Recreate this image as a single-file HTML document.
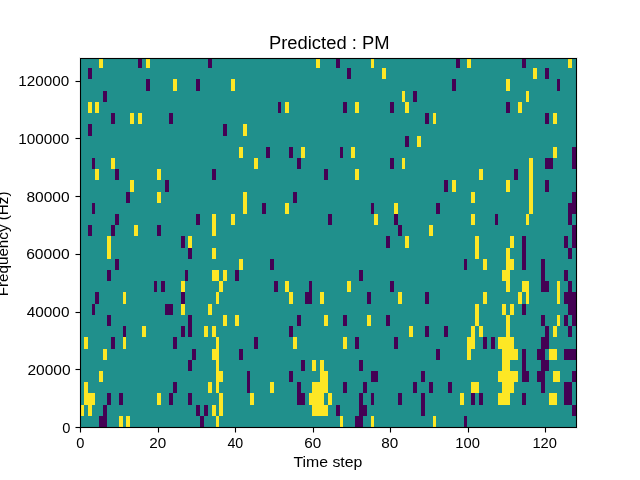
<!DOCTYPE html>
<html><head><meta charset="utf-8"><style>
html,body{margin:0;padding:0;background:#fff;overflow:hidden;}
svg{display:block;will-change:transform;}
text{font-family:"Liberation Sans",sans-serif;fill:#000;}
</style></head><body>
<svg width="640" height="480" viewBox="0 0 640 480">
<rect x="0" y="0" width="640" height="480" fill="#fff"/>
<g shape-rendering="crispEdges">
<rect x="80" y="58" width="496" height="369" fill="#20908c"/>
<rect x="99" y="58" width="4" height="10" fill="#fde725"/><rect x="138" y="58" width="4" height="10" fill="#440154"/><rect x="146" y="58" width="4" height="10" fill="#fde725"/><rect x="208" y="58" width="4" height="10" fill="#440154"/><rect x="316" y="58" width="4" height="10" fill="#fde725"/><rect x="336" y="58" width="4" height="10" fill="#440154"/><rect x="371" y="58" width="3" height="10" fill="#fde725"/><rect x="456" y="58" width="4" height="10" fill="#440154"/><rect x="467" y="58" width="4" height="10" fill="#fde725"/><rect x="522" y="58" width="4" height="10" fill="#440154"/><rect x="568" y="58" width="4" height="10" fill="#fde725"/><rect x="88" y="68" width="4" height="11" fill="#440154"/><rect x="347" y="68" width="4" height="11" fill="#440154"/><rect x="382" y="68" width="4" height="11" fill="#fde725"/><rect x="533" y="68" width="4" height="11" fill="#fde725"/><rect x="545" y="68" width="4" height="11" fill="#440154"/><rect x="146" y="79" width="4" height="12" fill="#440154"/><rect x="173" y="79" width="4" height="12" fill="#fde725"/><rect x="196" y="79" width="4" height="12" fill="#440154"/><rect x="231" y="79" width="4" height="12" fill="#fde725"/><rect x="452" y="79" width="4" height="12" fill="#440154"/><rect x="506" y="79" width="4" height="12" fill="#fde725"/><rect x="557" y="79" width="3" height="12" fill="#440154"/><rect x="103" y="91" width="4" height="11" fill="#440154"/><rect x="402" y="91" width="3" height="11" fill="#fde725"/><rect x="413" y="91" width="4" height="11" fill="#440154"/><rect x="526" y="91" width="3" height="11" fill="#fde725"/><rect x="88" y="102" width="4" height="11" fill="#fde725"/><rect x="95" y="102" width="4" height="11" fill="#fde725"/><rect x="278" y="102" width="3" height="11" fill="#440154"/><rect x="285" y="102" width="4" height="11" fill="#fde725"/><rect x="343" y="102" width="4" height="11" fill="#440154"/><rect x="355" y="102" width="4" height="11" fill="#fde725"/><rect x="390" y="102" width="4" height="11" fill="#440154"/><rect x="405" y="102" width="4" height="11" fill="#fde725"/><rect x="506" y="102" width="4" height="11" fill="#440154"/><rect x="518" y="102" width="4" height="11" fill="#fde725"/><rect x="111" y="113" width="4" height="11" fill="#440154"/><rect x="130" y="113" width="4" height="11" fill="#fde725"/><rect x="138" y="113" width="4" height="11" fill="#fde725"/><rect x="169" y="113" width="4" height="11" fill="#440154"/><rect x="425" y="113" width="4" height="11" fill="#440154"/><rect x="433" y="113" width="3" height="11" fill="#fde725"/><rect x="545" y="113" width="4" height="11" fill="#440154"/><rect x="553" y="113" width="4" height="11" fill="#fde725"/><rect x="88" y="124" width="4" height="12" fill="#440154"/><rect x="223" y="124" width="4" height="12" fill="#440154"/><rect x="243" y="124" width="4" height="12" fill="#fde725"/><rect x="405" y="136" width="4" height="11" fill="#440154"/><rect x="417" y="136" width="4" height="11" fill="#fde725"/><rect x="239" y="147" width="4" height="11" fill="#fde725"/><rect x="266" y="147" width="4" height="11" fill="#440154"/><rect x="289" y="147" width="4" height="11" fill="#440154"/><rect x="301" y="147" width="4" height="11" fill="#fde725"/><rect x="340" y="147" width="3" height="11" fill="#440154"/><rect x="351" y="147" width="4" height="11" fill="#fde725"/><rect x="553" y="147" width="4" height="11" fill="#fde725"/><rect x="572" y="147" width="4" height="11" fill="#440154"/><rect x="92" y="158" width="3" height="11" fill="#440154"/><rect x="111" y="158" width="4" height="11" fill="#fde725"/><rect x="254" y="158" width="4" height="11" fill="#fde725"/><rect x="297" y="158" width="4" height="11" fill="#440154"/><rect x="390" y="158" width="4" height="11" fill="#440154"/><rect x="402" y="158" width="3" height="11" fill="#fde725"/><rect x="529" y="158" width="4" height="11" fill="#fde725"/><rect x="545" y="158" width="8" height="11" fill="#440154"/><rect x="572" y="158" width="4" height="11" fill="#440154"/><rect x="95" y="169" width="4" height="11" fill="#fde725"/><rect x="115" y="169" width="4" height="11" fill="#440154"/><rect x="157" y="169" width="4" height="11" fill="#fde725"/><rect x="212" y="169" width="4" height="11" fill="#440154"/><rect x="324" y="169" width="4" height="11" fill="#440154"/><rect x="355" y="169" width="4" height="11" fill="#fde725"/><rect x="479" y="169" width="4" height="11" fill="#fde725"/><rect x="514" y="169" width="4" height="11" fill="#440154"/><rect x="529" y="169" width="4" height="11" fill="#fde725"/><rect x="130" y="180" width="4" height="12" fill="#fde725"/><rect x="165" y="180" width="4" height="12" fill="#440154"/><rect x="444" y="180" width="4" height="12" fill="#440154"/><rect x="452" y="180" width="4" height="12" fill="#fde725"/><rect x="506" y="180" width="4" height="12" fill="#fde725"/><rect x="529" y="180" width="4" height="12" fill="#fde725"/><rect x="545" y="180" width="4" height="12" fill="#440154"/><rect x="126" y="192" width="4" height="11" fill="#440154"/><rect x="157" y="192" width="4" height="11" fill="#fde725"/><rect x="243" y="192" width="4" height="11" fill="#fde725"/><rect x="293" y="192" width="4" height="11" fill="#440154"/><rect x="471" y="192" width="4" height="11" fill="#fde725"/><rect x="529" y="192" width="4" height="11" fill="#fde725"/><rect x="572" y="192" width="4" height="11" fill="#440154"/><rect x="92" y="203" width="3" height="11" fill="#440154"/><rect x="243" y="203" width="4" height="11" fill="#fde725"/><rect x="262" y="203" width="4" height="11" fill="#440154"/><rect x="285" y="203" width="4" height="11" fill="#fde725"/><rect x="371" y="203" width="3" height="11" fill="#440154"/><rect x="394" y="203" width="4" height="11" fill="#fde725"/><rect x="436" y="203" width="4" height="11" fill="#440154"/><rect x="529" y="203" width="4" height="11" fill="#fde725"/><rect x="568" y="203" width="8" height="11" fill="#440154"/><rect x="115" y="214" width="4" height="11" fill="#440154"/><rect x="196" y="214" width="4" height="11" fill="#440154"/><rect x="212" y="214" width="4" height="11" fill="#fde725"/><rect x="231" y="214" width="4" height="11" fill="#fde725"/><rect x="328" y="214" width="4" height="11" fill="#440154"/><rect x="374" y="214" width="4" height="11" fill="#fde725"/><rect x="394" y="214" width="4" height="11" fill="#440154"/><rect x="471" y="214" width="4" height="11" fill="#fde725"/><rect x="495" y="214" width="3" height="11" fill="#440154"/><rect x="526" y="214" width="3" height="11" fill="#fde725"/><rect x="568" y="214" width="4" height="11" fill="#440154"/><rect x="88" y="225" width="4" height="11" fill="#440154"/><rect x="111" y="225" width="4" height="11" fill="#440154"/><rect x="134" y="225" width="4" height="11" fill="#fde725"/><rect x="157" y="225" width="4" height="11" fill="#440154"/><rect x="212" y="225" width="4" height="11" fill="#fde725"/><rect x="398" y="225" width="4" height="11" fill="#440154"/><rect x="429" y="225" width="4" height="11" fill="#fde725"/><rect x="572" y="225" width="4" height="11" fill="#440154"/><rect x="107" y="236" width="4" height="12" fill="#fde725"/><rect x="181" y="236" width="4" height="12" fill="#440154"/><rect x="188" y="236" width="4" height="12" fill="#fde725"/><rect x="386" y="236" width="4" height="12" fill="#440154"/><rect x="405" y="236" width="4" height="12" fill="#fde725"/><rect x="475" y="236" width="4" height="12" fill="#fde725"/><rect x="510" y="236" width="4" height="12" fill="#fde725"/><rect x="522" y="236" width="4" height="12" fill="#440154"/><rect x="564" y="236" width="4" height="12" fill="#440154"/><rect x="572" y="236" width="4" height="12" fill="#440154"/><rect x="107" y="248" width="4" height="11" fill="#fde725"/><rect x="188" y="248" width="4" height="11" fill="#440154"/><rect x="212" y="248" width="4" height="11" fill="#fde725"/><rect x="475" y="248" width="4" height="11" fill="#fde725"/><rect x="506" y="248" width="4" height="11" fill="#fde725"/><rect x="522" y="248" width="4" height="11" fill="#440154"/><rect x="568" y="248" width="4" height="11" fill="#440154"/><rect x="115" y="259" width="4" height="11" fill="#440154"/><rect x="239" y="259" width="4" height="11" fill="#fde725"/><rect x="270" y="259" width="4" height="11" fill="#440154"/><rect x="464" y="259" width="3" height="11" fill="#440154"/><rect x="483" y="259" width="4" height="11" fill="#fde725"/><rect x="506" y="259" width="8" height="11" fill="#fde725"/><rect x="522" y="259" width="4" height="11" fill="#440154"/><rect x="541" y="259" width="4" height="11" fill="#440154"/><rect x="107" y="270" width="4" height="11" fill="#440154"/><rect x="185" y="270" width="3" height="11" fill="#440154"/><rect x="212" y="270" width="7" height="11" fill="#fde725"/><rect x="223" y="270" width="4" height="11" fill="#fde725"/><rect x="235" y="270" width="4" height="11" fill="#440154"/><rect x="359" y="270" width="4" height="11" fill="#440154"/><rect x="502" y="270" width="8" height="11" fill="#fde725"/><rect x="541" y="270" width="4" height="11" fill="#440154"/><rect x="564" y="270" width="4" height="11" fill="#440154"/><rect x="154" y="281" width="3" height="11" fill="#440154"/><rect x="161" y="281" width="4" height="11" fill="#440154"/><rect x="181" y="281" width="4" height="11" fill="#fde725"/><rect x="219" y="281" width="4" height="11" fill="#fde725"/><rect x="274" y="281" width="4" height="11" fill="#440154"/><rect x="285" y="281" width="4" height="11" fill="#fde725"/><rect x="309" y="281" width="3" height="11" fill="#440154"/><rect x="347" y="281" width="4" height="11" fill="#fde725"/><rect x="390" y="281" width="4" height="11" fill="#440154"/><rect x="506" y="281" width="4" height="11" fill="#fde725"/><rect x="522" y="281" width="7" height="11" fill="#fde725"/><rect x="541" y="281" width="8" height="11" fill="#440154"/><rect x="557" y="281" width="3" height="11" fill="#fde725"/><rect x="568" y="281" width="4" height="11" fill="#440154"/><rect x="95" y="292" width="4" height="12" fill="#440154"/><rect x="123" y="292" width="3" height="12" fill="#fde725"/><rect x="181" y="292" width="4" height="12" fill="#440154"/><rect x="216" y="292" width="3" height="12" fill="#fde725"/><rect x="289" y="292" width="4" height="12" fill="#fde725"/><rect x="305" y="292" width="7" height="12" fill="#440154"/><rect x="320" y="292" width="4" height="12" fill="#fde725"/><rect x="367" y="292" width="4" height="12" fill="#440154"/><rect x="398" y="292" width="4" height="12" fill="#fde725"/><rect x="425" y="292" width="4" height="12" fill="#440154"/><rect x="483" y="292" width="4" height="12" fill="#fde725"/><rect x="518" y="292" width="4" height="12" fill="#fde725"/><rect x="526" y="292" width="3" height="12" fill="#fde725"/><rect x="557" y="292" width="3" height="12" fill="#fde725"/><rect x="564" y="292" width="12" height="12" fill="#440154"/><rect x="92" y="304" width="3" height="11" fill="#440154"/><rect x="165" y="304" width="8" height="11" fill="#440154"/><rect x="181" y="304" width="4" height="11" fill="#fde725"/><rect x="208" y="304" width="4" height="11" fill="#fde725"/><rect x="475" y="304" width="4" height="11" fill="#fde725"/><rect x="502" y="304" width="4" height="11" fill="#fde725"/><rect x="510" y="304" width="4" height="11" fill="#fde725"/><rect x="522" y="304" width="4" height="11" fill="#440154"/><rect x="568" y="304" width="8" height="11" fill="#440154"/><rect x="107" y="315" width="4" height="11" fill="#440154"/><rect x="188" y="315" width="4" height="11" fill="#440154"/><rect x="223" y="315" width="4" height="11" fill="#fde725"/><rect x="235" y="315" width="4" height="11" fill="#fde725"/><rect x="297" y="315" width="4" height="11" fill="#440154"/><rect x="324" y="315" width="4" height="11" fill="#fde725"/><rect x="343" y="315" width="4" height="11" fill="#440154"/><rect x="367" y="315" width="4" height="11" fill="#fde725"/><rect x="386" y="315" width="4" height="11" fill="#440154"/><rect x="475" y="315" width="4" height="11" fill="#fde725"/><rect x="506" y="315" width="4" height="11" fill="#fde725"/><rect x="541" y="315" width="4" height="11" fill="#440154"/><rect x="557" y="315" width="3" height="11" fill="#fde725"/><rect x="564" y="315" width="4" height="11" fill="#440154"/><rect x="572" y="315" width="4" height="11" fill="#440154"/><rect x="123" y="326" width="3" height="11" fill="#440154"/><rect x="142" y="326" width="4" height="11" fill="#fde725"/><rect x="181" y="326" width="4" height="11" fill="#440154"/><rect x="188" y="326" width="4" height="11" fill="#440154"/><rect x="204" y="326" width="4" height="11" fill="#fde725"/><rect x="212" y="326" width="4" height="11" fill="#fde725"/><rect x="289" y="326" width="4" height="11" fill="#440154"/><rect x="409" y="326" width="4" height="11" fill="#fde725"/><rect x="425" y="326" width="4" height="11" fill="#440154"/><rect x="444" y="326" width="4" height="11" fill="#440154"/><rect x="471" y="326" width="4" height="11" fill="#fde725"/><rect x="479" y="326" width="4" height="11" fill="#fde725"/><rect x="506" y="326" width="4" height="11" fill="#fde725"/><rect x="545" y="326" width="4" height="11" fill="#440154"/><rect x="553" y="326" width="4" height="11" fill="#fde725"/><rect x="568" y="326" width="4" height="11" fill="#440154"/><rect x="84" y="337" width="4" height="12" fill="#fde725"/><rect x="111" y="337" width="4" height="12" fill="#440154"/><rect x="123" y="337" width="3" height="12" fill="#fde725"/><rect x="173" y="337" width="4" height="12" fill="#440154"/><rect x="216" y="337" width="3" height="12" fill="#fde725"/><rect x="254" y="337" width="4" height="12" fill="#440154"/><rect x="293" y="337" width="4" height="12" fill="#fde725"/><rect x="343" y="337" width="4" height="12" fill="#fde725"/><rect x="355" y="337" width="4" height="12" fill="#440154"/><rect x="394" y="337" width="4" height="12" fill="#440154"/><rect x="467" y="337" width="8" height="12" fill="#fde725"/><rect x="483" y="337" width="4" height="12" fill="#440154"/><rect x="491" y="337" width="4" height="12" fill="#440154"/><rect x="498" y="337" width="16" height="12" fill="#fde725"/><rect x="541" y="337" width="8" height="12" fill="#440154"/><rect x="103" y="349" width="4" height="11" fill="#fde725"/><rect x="192" y="349" width="4" height="11" fill="#440154"/><rect x="212" y="349" width="7" height="11" fill="#fde725"/><rect x="239" y="349" width="4" height="11" fill="#440154"/><rect x="436" y="349" width="4" height="11" fill="#440154"/><rect x="467" y="349" width="4" height="11" fill="#fde725"/><rect x="502" y="349" width="16" height="11" fill="#fde725"/><rect x="522" y="349" width="4" height="11" fill="#440154"/><rect x="537" y="349" width="8" height="11" fill="#440154"/><rect x="549" y="349" width="8" height="11" fill="#fde725"/><rect x="564" y="349" width="12" height="11" fill="#440154"/><rect x="188" y="360" width="4" height="11" fill="#440154"/><rect x="216" y="360" width="3" height="11" fill="#fde725"/><rect x="301" y="360" width="4" height="11" fill="#440154"/><rect x="312" y="360" width="4" height="11" fill="#fde725"/><rect x="320" y="360" width="4" height="11" fill="#fde725"/><rect x="359" y="360" width="4" height="11" fill="#440154"/><rect x="502" y="360" width="8" height="11" fill="#fde725"/><rect x="522" y="360" width="4" height="11" fill="#440154"/><rect x="541" y="360" width="8" height="11" fill="#440154"/><rect x="99" y="371" width="4" height="11" fill="#fde725"/><rect x="216" y="371" width="7" height="11" fill="#fde725"/><rect x="247" y="371" width="3" height="11" fill="#440154"/><rect x="289" y="371" width="4" height="11" fill="#440154"/><rect x="320" y="371" width="8" height="11" fill="#fde725"/><rect x="371" y="371" width="7" height="11" fill="#440154"/><rect x="421" y="371" width="4" height="11" fill="#440154"/><rect x="498" y="371" width="20" height="11" fill="#fde725"/><rect x="522" y="371" width="7" height="11" fill="#440154"/><rect x="537" y="371" width="8" height="11" fill="#440154"/><rect x="553" y="371" width="7" height="11" fill="#fde725"/><rect x="572" y="371" width="4" height="11" fill="#440154"/><rect x="84" y="382" width="4" height="11" fill="#fde725"/><rect x="173" y="382" width="4" height="11" fill="#440154"/><rect x="208" y="382" width="4" height="11" fill="#fde725"/><rect x="216" y="382" width="3" height="11" fill="#fde725"/><rect x="247" y="382" width="3" height="11" fill="#440154"/><rect x="270" y="382" width="4" height="11" fill="#fde725"/><rect x="297" y="382" width="4" height="11" fill="#440154"/><rect x="312" y="382" width="16" height="11" fill="#fde725"/><rect x="343" y="382" width="4" height="11" fill="#440154"/><rect x="363" y="382" width="4" height="11" fill="#440154"/><rect x="413" y="382" width="4" height="11" fill="#440154"/><rect x="429" y="382" width="4" height="11" fill="#440154"/><rect x="448" y="382" width="4" height="11" fill="#440154"/><rect x="471" y="382" width="8" height="11" fill="#fde725"/><rect x="502" y="382" width="12" height="11" fill="#fde725"/><rect x="541" y="382" width="4" height="11" fill="#440154"/><rect x="564" y="382" width="8" height="11" fill="#440154"/><rect x="84" y="393" width="11" height="12" fill="#fde725"/><rect x="107" y="393" width="4" height="12" fill="#440154"/><rect x="119" y="393" width="4" height="12" fill="#440154"/><rect x="157" y="393" width="4" height="12" fill="#fde725"/><rect x="169" y="393" width="4" height="12" fill="#440154"/><rect x="188" y="393" width="4" height="12" fill="#440154"/><rect x="219" y="393" width="4" height="12" fill="#fde725"/><rect x="250" y="393" width="4" height="12" fill="#fde725"/><rect x="297" y="393" width="8" height="12" fill="#440154"/><rect x="309" y="393" width="15" height="12" fill="#fde725"/><rect x="328" y="393" width="4" height="12" fill="#fde725"/><rect x="359" y="393" width="4" height="12" fill="#440154"/><rect x="371" y="393" width="3" height="12" fill="#440154"/><rect x="398" y="393" width="4" height="12" fill="#440154"/><rect x="421" y="393" width="4" height="12" fill="#440154"/><rect x="460" y="393" width="4" height="12" fill="#fde725"/><rect x="471" y="393" width="4" height="12" fill="#440154"/><rect x="479" y="393" width="4" height="12" fill="#440154"/><rect x="498" y="393" width="12" height="12" fill="#fde725"/><rect x="522" y="393" width="4" height="12" fill="#440154"/><rect x="549" y="393" width="8" height="12" fill="#fde725"/><rect x="564" y="393" width="8" height="12" fill="#440154"/><rect x="80" y="405" width="4" height="11" fill="#fde725"/><rect x="88" y="405" width="4" height="11" fill="#fde725"/><rect x="103" y="405" width="4" height="11" fill="#440154"/><rect x="196" y="405" width="4" height="11" fill="#440154"/><rect x="204" y="405" width="4" height="11" fill="#440154"/><rect x="212" y="405" width="4" height="11" fill="#fde725"/><rect x="219" y="405" width="4" height="11" fill="#fde725"/><rect x="312" y="405" width="16" height="11" fill="#fde725"/><rect x="336" y="405" width="4" height="11" fill="#440154"/><rect x="359" y="405" width="8" height="11" fill="#440154"/><rect x="421" y="405" width="4" height="11" fill="#440154"/><rect x="572" y="405" width="4" height="11" fill="#440154"/><rect x="99" y="416" width="8" height="11" fill="#440154"/><rect x="119" y="416" width="4" height="11" fill="#fde725"/><rect x="126" y="416" width="4" height="11" fill="#fde725"/><rect x="200" y="416" width="4" height="11" fill="#440154"/><rect x="216" y="416" width="3" height="11" fill="#fde725"/><rect x="340" y="416" width="3" height="11" fill="#fde725"/><rect x="355" y="416" width="8" height="11" fill="#440154"/><rect x="371" y="416" width="3" height="11" fill="#fde725"/><rect x="433" y="416" width="3" height="11" fill="#fde725"/><rect x="464" y="416" width="3" height="11" fill="#440154"/>
<rect x="79" y="57" width="499" height="1" fill="#000" fill-opacity="0.055"/><rect x="79" y="428" width="499" height="1" fill="#000" fill-opacity="0.055"/><rect x="79" y="58" width="1" height="370" fill="#000" fill-opacity="0.055"/><rect x="577" y="58" width="1" height="370" fill="#000" fill-opacity="0.055"/><rect x="81" y="59" width="495" height="1" fill="#000" fill-opacity="0.055"/><rect x="81" y="426" width="495" height="1" fill="#000" fill-opacity="0.055"/><rect x="81" y="60" width="1" height="366" fill="#000" fill-opacity="0.055"/><rect x="575" y="60" width="1" height="366" fill="#000" fill-opacity="0.055"/><rect x="80" y="58" width="497" height="1" fill="#000"/><rect x="80" y="427" width="497" height="1" fill="#000"/><rect x="80" y="58" width="1" height="370" fill="#000"/><rect x="576" y="58" width="1" height="370" fill="#000"/><rect x="76" y="426" width="4" height="1" fill="#000" fill-opacity="0.055"/><rect x="76" y="428" width="4" height="1" fill="#000" fill-opacity="0.055"/><rect x="75" y="426" width="1" height="1" fill="#000" fill-opacity="0.027"/><rect x="75" y="428" width="1" height="1" fill="#000" fill-opacity="0.027"/><rect x="75" y="427" width="1" height="1" fill="#000" fill-opacity="0.5"/><rect x="76" y="427" width="4" height="1" fill="#000"/><rect x="76" y="368" width="4" height="1" fill="#000" fill-opacity="0.055"/><rect x="76" y="370" width="4" height="1" fill="#000" fill-opacity="0.055"/><rect x="75" y="368" width="1" height="1" fill="#000" fill-opacity="0.027"/><rect x="75" y="370" width="1" height="1" fill="#000" fill-opacity="0.027"/><rect x="75" y="369" width="1" height="1" fill="#000" fill-opacity="0.5"/><rect x="76" y="369" width="4" height="1" fill="#000"/><rect x="76" y="311" width="4" height="1" fill="#000" fill-opacity="0.055"/><rect x="76" y="313" width="4" height="1" fill="#000" fill-opacity="0.055"/><rect x="75" y="311" width="1" height="1" fill="#000" fill-opacity="0.027"/><rect x="75" y="313" width="1" height="1" fill="#000" fill-opacity="0.027"/><rect x="75" y="312" width="1" height="1" fill="#000" fill-opacity="0.5"/><rect x="76" y="312" width="4" height="1" fill="#000"/><rect x="76" y="253" width="4" height="1" fill="#000" fill-opacity="0.055"/><rect x="76" y="255" width="4" height="1" fill="#000" fill-opacity="0.055"/><rect x="75" y="253" width="1" height="1" fill="#000" fill-opacity="0.027"/><rect x="75" y="255" width="1" height="1" fill="#000" fill-opacity="0.027"/><rect x="75" y="254" width="1" height="1" fill="#000" fill-opacity="0.5"/><rect x="76" y="254" width="4" height="1" fill="#000"/><rect x="76" y="195" width="4" height="1" fill="#000" fill-opacity="0.055"/><rect x="76" y="197" width="4" height="1" fill="#000" fill-opacity="0.055"/><rect x="75" y="195" width="1" height="1" fill="#000" fill-opacity="0.027"/><rect x="75" y="197" width="1" height="1" fill="#000" fill-opacity="0.027"/><rect x="75" y="196" width="1" height="1" fill="#000" fill-opacity="0.5"/><rect x="76" y="196" width="4" height="1" fill="#000"/><rect x="76" y="137" width="4" height="1" fill="#000" fill-opacity="0.055"/><rect x="76" y="139" width="4" height="1" fill="#000" fill-opacity="0.055"/><rect x="75" y="137" width="1" height="1" fill="#000" fill-opacity="0.027"/><rect x="75" y="139" width="1" height="1" fill="#000" fill-opacity="0.027"/><rect x="75" y="138" width="1" height="1" fill="#000" fill-opacity="0.5"/><rect x="76" y="138" width="4" height="1" fill="#000"/><rect x="76" y="80" width="4" height="1" fill="#000" fill-opacity="0.055"/><rect x="76" y="82" width="4" height="1" fill="#000" fill-opacity="0.055"/><rect x="75" y="80" width="1" height="1" fill="#000" fill-opacity="0.027"/><rect x="75" y="82" width="1" height="1" fill="#000" fill-opacity="0.027"/><rect x="75" y="81" width="1" height="1" fill="#000" fill-opacity="0.5"/><rect x="76" y="81" width="4" height="1" fill="#000"/><rect x="79" y="428" width="1" height="4" fill="#000" fill-opacity="0.055"/><rect x="81" y="428" width="1" height="4" fill="#000" fill-opacity="0.055"/><rect x="79" y="432" width="1" height="1" fill="#000" fill-opacity="0.027"/><rect x="81" y="432" width="1" height="1" fill="#000" fill-opacity="0.027"/><rect x="80" y="432" width="1" height="1" fill="#000" fill-opacity="0.5"/><rect x="80" y="428" width="1" height="4" fill="#000"/><rect x="157" y="428" width="1" height="4" fill="#000" fill-opacity="0.055"/><rect x="159" y="428" width="1" height="4" fill="#000" fill-opacity="0.055"/><rect x="157" y="432" width="1" height="1" fill="#000" fill-opacity="0.027"/><rect x="159" y="432" width="1" height="1" fill="#000" fill-opacity="0.027"/><rect x="158" y="432" width="1" height="1" fill="#000" fill-opacity="0.5"/><rect x="158" y="428" width="1" height="4" fill="#000"/><rect x="234" y="428" width="1" height="4" fill="#000" fill-opacity="0.055"/><rect x="236" y="428" width="1" height="4" fill="#000" fill-opacity="0.055"/><rect x="234" y="432" width="1" height="1" fill="#000" fill-opacity="0.027"/><rect x="236" y="432" width="1" height="1" fill="#000" fill-opacity="0.027"/><rect x="235" y="432" width="1" height="1" fill="#000" fill-opacity="0.5"/><rect x="235" y="428" width="1" height="4" fill="#000"/><rect x="312" y="428" width="1" height="4" fill="#000" fill-opacity="0.055"/><rect x="314" y="428" width="1" height="4" fill="#000" fill-opacity="0.055"/><rect x="312" y="432" width="1" height="1" fill="#000" fill-opacity="0.027"/><rect x="314" y="432" width="1" height="1" fill="#000" fill-opacity="0.027"/><rect x="313" y="432" width="1" height="1" fill="#000" fill-opacity="0.5"/><rect x="313" y="428" width="1" height="4" fill="#000"/><rect x="389" y="428" width="1" height="4" fill="#000" fill-opacity="0.055"/><rect x="391" y="428" width="1" height="4" fill="#000" fill-opacity="0.055"/><rect x="389" y="432" width="1" height="1" fill="#000" fill-opacity="0.027"/><rect x="391" y="432" width="1" height="1" fill="#000" fill-opacity="0.027"/><rect x="390" y="432" width="1" height="1" fill="#000" fill-opacity="0.5"/><rect x="390" y="428" width="1" height="4" fill="#000"/><rect x="467" y="428" width="1" height="4" fill="#000" fill-opacity="0.055"/><rect x="469" y="428" width="1" height="4" fill="#000" fill-opacity="0.055"/><rect x="467" y="432" width="1" height="1" fill="#000" fill-opacity="0.027"/><rect x="469" y="432" width="1" height="1" fill="#000" fill-opacity="0.027"/><rect x="468" y="432" width="1" height="1" fill="#000" fill-opacity="0.5"/><rect x="468" y="428" width="1" height="4" fill="#000"/><rect x="544" y="428" width="1" height="4" fill="#000" fill-opacity="0.055"/><rect x="546" y="428" width="1" height="4" fill="#000" fill-opacity="0.055"/><rect x="544" y="432" width="1" height="1" fill="#000" fill-opacity="0.027"/><rect x="546" y="432" width="1" height="1" fill="#000" fill-opacity="0.027"/><rect x="545" y="432" width="1" height="1" fill="#000" fill-opacity="0.5"/><rect x="545" y="428" width="1" height="4" fill="#000"/>
</g>
<text x="268.97" y="49.20" font-size="18.99" textLength="120.53" lengthAdjust="spacingAndGlyphs">Predicted : PM</text>
<text x="62.32" y="433.04" font-size="14.64" textLength="8.15" lengthAdjust="spacingAndGlyphs">0</text>
<text x="27.45" y="375.00" font-size="14.69" textLength="43.19" lengthAdjust="spacingAndGlyphs">20000</text>
<text x="26.75" y="316.65" font-size="14.52" textLength="42.69" lengthAdjust="spacingAndGlyphs">40000</text>
<text x="26.15" y="259.23" font-size="14.58" textLength="43.48" lengthAdjust="spacingAndGlyphs">60000</text>
<text x="26.43" y="202.23" font-size="13.98" textLength="43.19" lengthAdjust="spacingAndGlyphs">80000</text>
<text x="18.17" y="144.00" font-size="14.47" textLength="51.11" lengthAdjust="spacingAndGlyphs">100000</text>
<text x="18.36" y="86.20" font-size="14.30" textLength="50.81" lengthAdjust="spacingAndGlyphs">120000</text>
<text x="76.29" y="448.10" font-size="13.86" textLength="8.16" lengthAdjust="spacingAndGlyphs">0</text>
<text x="149.24" y="447.80" font-size="14.57" textLength="16.99" lengthAdjust="spacingAndGlyphs">20</text>
<text x="227.38" y="447.91" font-size="14.42" textLength="15.79" lengthAdjust="spacingAndGlyphs">40</text>
<text x="304.30" y="447.96" font-size="14.35" textLength="16.97" lengthAdjust="spacingAndGlyphs">60</text>
<text x="381.26" y="447.91" font-size="14.66" textLength="17.01" lengthAdjust="spacingAndGlyphs">80</text>
<text x="455.33" y="448.00" font-size="14.34" textLength="24.63" lengthAdjust="spacingAndGlyphs">100</text>
<text x="532.39" y="448.00" font-size="14.87" textLength="24.52" lengthAdjust="spacingAndGlyphs">120</text>
<text x="293.42" y="466.64" font-size="13.76" textLength="68.96" lengthAdjust="spacingAndGlyphs">Time step</text>
<text transform="translate(8.00,296.36) rotate(-90)" font-size="14.49" textLength="104.90" lengthAdjust="spacingAndGlyphs">Frequency (Hz)</text>
</svg>
</body></html>
